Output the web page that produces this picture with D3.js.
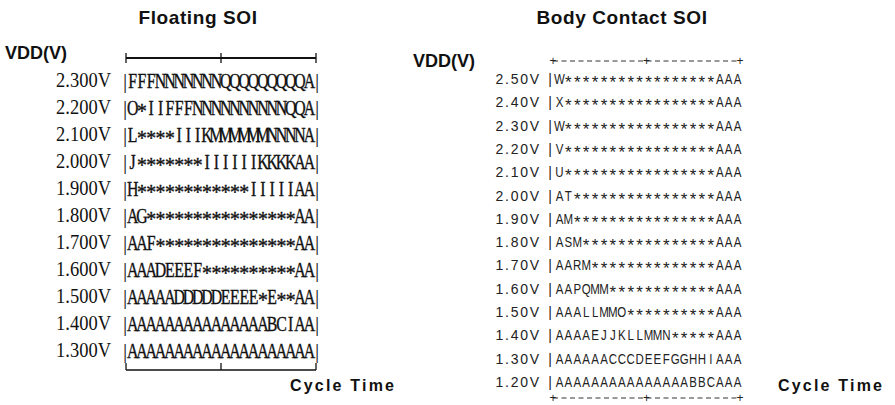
<!DOCTYPE html>
<meta charset="utf-8">
<style>
  body { margin: 0; background: #fff; }
  .title { font-family: 'Liberation Sans', Arial, sans-serif; font-weight: bold; fill: #111; }
  .serif { font-family: 'Liberation Serif', 'Times New Roman', serif; fill: #111; }
  .sans { font-family: 'Liberation Sans', Arial, sans-serif; fill: #222; }
</style>
<script src="https://d3js.org/d3.v7.min.js"></script>
<body>
<div id="chart"></div>
<script>
  // 左图：Floating SOI 的电压与每行的测试结果字符
  const floatVdd = ["2.300V", "2.200V", "2.100V", "2.000V", "1.900V", "1.800V",
                    "1.700V", "1.600V", "1.500V", "1.400V", "1.300V"];
  const floatRows = [
    "FFFNNNNNNNQQQQQQQQQA",
    "O*IIFFFNNNNNNNNNNQQA",
    "L****IIIKMMMMMMNNNNA",
    "J*******IIIIIIKKKKAA",
    "H************IIIIIAA",
    "AG****************AA",
    "AAF***************AA",
    "AAADEEEF**********AA",
    "AAAAADDDDDEEEE*E**AA",
    "AAAAAAAAAAAAAAABCIAA",
    "AAAAAAAAAAAAAAAAAAAA"
  ];

  // 右图：Body Contact SOI
  const bodyVdd = ["2.50V", "2.40V", "2.30V", "2.20V", "2.10V", "2.00V", "1.90V",
                   "1.80V", "1.70V", "1.60V", "1.50V", "1.40V", "1.30V", "1.20V"];
  const bodyRows = [
    "W*****************AAA",
    "X*****************AAA",
    "W*****************AAA",
    "V*****************AAA",
    "U*****************AAA",
    "AT****************AAA",
    "AM****************AAA",
    "ASM***************AAA",
    "AARM**************AAA",
    "AAPQMM************AAA",
    "AAALLMMO**********AAA",
    "AAAAEJJKLLMMN*****AAA",
    "AAAAAACCCDEEFGGHHIAAA",
    "AAAAAAAAAAAAAAABBCAAA"
  ];

  // 横轴（Cycle Time）只有三个刻度：起点、中点、终点
  const cycleTicks = [0, 1, 2];

  const W = 895, H = 405;
  const svg = d3.select("#chart").append("svg")
    .attr("width", W).attr("height", H);

  // ---------------- Floating SOI ----------------
  let fx = d3.scaleBand().domain(d3.range(floatRows[0].length)).range([128, 314]);
  let fy = d3.scaleBand().domain(floatVdd).range([66, 363]);
  let fTick = d3.scaleLinear().domain([0, 2]).range([126, 316]);

  let left = svg.append("g");

  left.append("text").attr("class", "title")
    .attr("x", 198).attr("y", 24).attr("text-anchor", "middle")
    .style("font-size", "19px").style("letter-spacing", "0.6px")
    .text("Floating SOI");

  left.append("text").attr("class", "title")
    .attr("x", 5).attr("y", 59)
    .style("font-size", "18px")
    .text("VDD(V)");

  // 上方轴：实线加十字刻度
  left.append("line")
    .attr("x1", fTick(0)).attr("x2", fTick(2))
    .attr("y1", 58).attr("y2", 58)
    .attr("stroke", "#111").attr("stroke-width", 1.8);
  left.selectAll(".ttop").data(cycleTicks).join("line")
    .attr("x1", d => fTick(d)).attr("x2", d => fTick(d))
    .attr("y1", 53).attr("y2", 63)
    .attr("stroke", "#111").attr("stroke-width", 1.3);

  // 下方轴：实线加向上刻度
  left.append("line")
    .attr("x1", fTick(0)).attr("x2", fTick(2))
    .attr("y1", 370).attr("y2", 370)
    .attr("stroke", "#111").attr("stroke-width", 1.5);
  left.selectAll(".tbot").data(cycleTicks).join("line")
    .attr("x1", d => fTick(d)).attr("x2", d => fTick(d))
    .attr("y1", 363).attr("y2", 370)
    .attr("stroke", "#111").attr("stroke-width", 1.3);

  left.append("text").attr("class", "title")
    .attr("x", 290).attr("y", 391)
    .style("font-size", "16px").style("letter-spacing", "2.2px")
    .text("Cycle Time");

  // 电压标签（窄的衬线字）
  left.selectAll(".flab").data(floatVdd).join("text")
    .attr("class", "serif")
    .attr("transform", d => `translate(111,${fy(d) + fy.bandwidth() / 2 + 7}) scale(0.88,1)`)
    .attr("text-anchor", "end")
    .style("font-size", "21px")
    .text(d => d);

  // 每行：两侧竖线 + 结果字符
  floatVdd.forEach(function (v, i) {
    let cy = fy(v) + fy.bandwidth() / 2;
    [fTick(0) - 1, fTick(2) + 1].forEach(function (x) {
      left.append("text").attr("class", "serif")
        .attr("x", x).attr("y", cy + 8)
        .attr("text-anchor", "middle")
        .style("font-size", "21px")
        .text("|");
    });
    let g = left.append("g");
    g.selectAll("text").data(floatRows[i].split("")).join("text")
      .attr("class", "serif")
      .attr("transform", (c, j) => `translate(${fx(j) + fx.bandwidth() / 2},${cy + (c === "*" ? 11 : 8)}) scale(${c === "*" ? 0.9 : 0.72},1)`)
      .attr("text-anchor", "middle")
      .attr("stroke", "#111").attr("stroke-width", 0.4)
      .style("font-size", "22px")
      .text(c => c);
  });

  // ---------------- Body Contact SOI ----------------
  let bx = d3.scaleBand().domain(d3.range(bodyRows[0].length)).range([555, 742]);
  let by = d3.scaleBand().domain(bodyVdd).range([67.5, 393.5]);
  let bTick = d3.scaleLinear().domain([0, 2]).range([553, 740]);

  let right = svg.append("g");

  right.append("text").attr("class", "title")
    .attr("x", 622).attr("y", 24).attr("text-anchor", "middle")
    .style("font-size", "19px").style("letter-spacing", "0.6px")
    .text("Body Contact SOI");

  right.append("text").attr("class", "title")
    .attr("x", 413).attr("y", 67)
    .style("font-size", "18px")
    .text("VDD(V)");

  // 虚线轴
  [61, 398].forEach(function (y) {
    right.append("line")
      .attr("x1", bTick(0)).attr("x2", bTick(2))
      .attr("y1", y).attr("y2", y)
      .attr("stroke", "#333").attr("stroke-width", 1)
      .attr("stroke-dasharray", "5,3.5");
    right.selectAll(null).data(cycleTicks).join("text")
      .attr("class", "sans")
      .attr("x", d => bTick(d)).attr("y", y + 4)
      .attr("text-anchor", "middle")
      .style("font-size", "12px")
      .text("+");
  });

  right.append("text").attr("class", "title")
    .attr("x", 778).attr("y", 391)
    .style("font-size", "16px").style("letter-spacing", "2.2px")
    .text("Cycle Time");

  right.selectAll(".blab").data(bodyVdd).join("text")
    .attr("class", "sans")
    .attr("x", 541).attr("y", d => by(d) + by.bandwidth() / 2 + 5)
    .attr("text-anchor", "end")
    .style("font-size", "14px").style("letter-spacing", "1.8px")
    .text(d => d);

  bodyVdd.forEach(function (v, i) {
    let cy = by(v) + by.bandwidth() / 2;
    right.append("text").attr("class", "sans")
      .attr("x", 550).attr("y", cy + 5)
      .attr("text-anchor", "middle")
      .style("font-size", "14px")
      .text("|");
    let g = right.append("g");
    g.selectAll("text").data(bodyRows[i].split("")).join("text")
      .attr("class", "sans")
      .attr("transform", (c, j) => `translate(${bx(j) + bx.bandwidth() / 2},${cy + (c === "*" ? 9 : 5)}) scale(${c === "*" ? 1 : 0.82},1)`)
      .attr("text-anchor", "middle")
      .style("font-size", c => c === "*" ? "17px" : "14px")
      .text(c => c);
  });
</script>
</body>
